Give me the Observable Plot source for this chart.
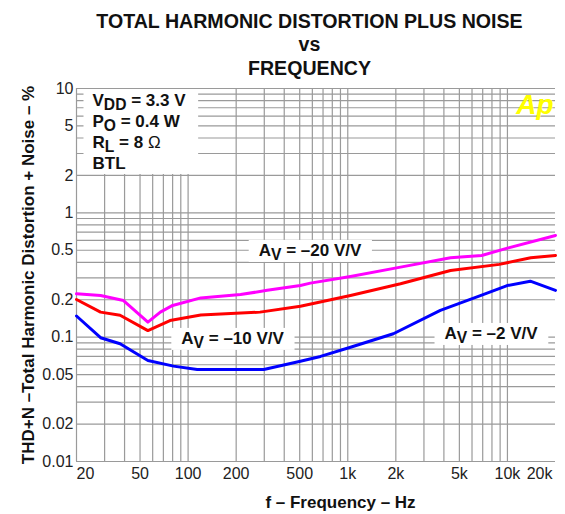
<!DOCTYPE html>
<html><head><meta charset="utf-8">
<script src="https://cdn.jsdelivr.net/npm/d3@7"></script>
<script src="https://cdn.jsdelivr.net/npm/@observablehq/plot@0.6"></script>
<style>body{margin:0;background:#fff} svg{display:block}</style>
</head><body><div id="chart"></div>
<script>
// ---- data ----
const freqAv20 = [20, 28.3, 39.4, 56, 67, 80, 120, 213, 313, 505, 583, 1040, 2140, 4400, 6900, 10000, 20000];
const thdAv20  = [0.223, 0.216, 0.197, 0.132, 0.159, 0.18, 0.207, 0.22, 0.238, 0.26, 0.272, 0.308, 0.366, 0.435, 0.454, 0.52, 0.658];
const freqAv10 = [20, 28.3, 37.5, 56, 77, 120, 282, 505, 1040, 2140, 4400, 8900, 14000, 20000];
const thdAv10  = [0.201, 0.159, 0.150, 0.113, 0.136, 0.151, 0.159, 0.177, 0.216, 0.269, 0.344, 0.385, 0.435, 0.454];
const freqAv2  = [20, 28.3, 37.5, 56, 81, 114, 298, 505, 675, 1040, 1930, 3800, 6770, 9960, 13900, 20000];
const thdAv2   = [0.148, 0.099, 0.0885, 0.065, 0.0585, 0.055, 0.055, 0.064, 0.07, 0.083, 0.1065, 0.164, 0.216, 0.26, 0.282, 0.238];

const xTickValues = [20, 50, 100, 200, 500, 1000, 2000, 5000, 10000, 20000];
const xTickLabels = ["20", "50", "100", "200", "500", "1k", "2k", "5k", "10k", "20k"];
const yTickValues = [0.01, 0.02, 0.05, 0.1, 0.2, 0.5, 1, 2, 5, 10];
const yTickLabels = ["0.01", "0.02", "0.05", "0.1", "0.2", "0.5", "1", "2", "5", "10"];

const gainLabels = ["A{V} = \u201320 V/V", "A{V} = \u201310 V/V", "A{V} = \u20132 V/V"];
const gainFreq   = [580, 190, 7900];
const gainThd    = [0.498, 0.0976, 0.107];

const legendLines = ["V{DD} = 3.3 V", "P{O} = 0.4 W", "R{L} = 8 \u03A9", "BTL"];
const titleLines = ["TOTAL HARMONIC DISTORTION PLUS NOISE", "vs", "FREQUENCY"];
const xLabel = "f \u2013 Frequency \u2013 Hz";
const yLabel = "THD+N \u2013Total Harmonic Distortion + Noise \u2013 %";

// ---- layout ----
const W = 565, H = 514, MT = 88, MB = 53, ML = 76, MR = 10;
const FONT = "'Liberation Sans', Arial, Helvetica, sans-serif";

const xGrid = [];
for (const d of [10, 100, 1000]) for (let k = 2; k <= 10; k++) xGrid.push(k * d);
const yGrid = [];
for (const d of [0.01, 0.1, 1]) for (let k = 1; k <= 9; k++) yGrid.push(k * d);
yGrid.push(10);

const pairs = (a, b) => a.map((v, i) => [v, b[i]]);
const GRID = "#9a9a9a";

const titleBase = [27, 50, 74];
const legendBase = [105, 126, 147, 168];
const TFS = 19.6, YFS = 17;

const marks = [
  Plot.ruleX(xGrid, {x: d => d, stroke: GRID, strokeWidth: 1.2}),
  Plot.ruleY(yGrid, {y: d => d, stroke: GRID, strokeWidth: 1.2}),
  Plot.line(pairs(freqAv2, thdAv2), {x: d => d[0], y: d => d[1], stroke: "#0000ff", strokeWidth: 3, strokeLinejoin: "round"}),
  Plot.line(pairs(freqAv10, thdAv10), {x: d => d[0], y: d => d[1], stroke: "#ff0000", strokeWidth: 3, strokeLinejoin: "round"}),
  Plot.line(pairs(freqAv20, thdAv20), {x: d => d[0], y: d => d[1], stroke: "#ff00ff", strokeWidth: 3, strokeLinejoin: "round"}),
  // x tick labels
  Plot.text([0], {x: i => xTickValues[i], text: i => xTickLabels[i], frameAnchor: "bottom", lineAnchor: "top", textAnchor: "start", dy: 6, dx: 0, fontSize: 16, fill: "#222"}),
  Plot.text(d3.range(1, xTickValues.length - 1), {x: i => xTickValues[i], text: i => xTickLabels[i], frameAnchor: "bottom", lineAnchor: "top", textAnchor: "middle", dy: 6, fontSize: 16, fill: "#222"}),
  Plot.text([xTickValues.length - 1], {x: i => xTickValues[i], text: i => xTickLabels[i], frameAnchor: "bottom", lineAnchor: "top", textAnchor: "end", dy: 6, dx: -3, fontSize: 16, fill: "#222"}),
  // y tick labels
  Plot.text(d3.range(yTickValues.length), {y: i => yTickValues[i], text: i => yTickLabels[i], frameAnchor: "left", textAnchor: "end", lineAnchor: "middle", dx: -3, fontSize: 16, fill: "#222"}),
  // axis titles
  Plot.text([xLabel], {text: d => d, frameAnchor: "bottom", textAnchor: "middle", lineAnchor: "middle", dx: 24.5, dy: 507 - 0.32 * 17 - (H - MB), fontSize: 17, fontWeight: "bold", fill: "#111"}),
  Plot.text([yLabel], {text: d => d, frameAnchor: "left", textAnchor: "middle", lineAnchor: "middle", rotate: -90, dx: 33 - 0.32 * YFS - ML, fontSize: YFS, fontWeight: "bold", fill: "#111"}),
  // title
  ...titleLines.map((t, i) => Plot.text([t], {text: d => d, frameAnchor: "top", textAnchor: "middle", lineAnchor: "middle", dx: -6.5, dy: titleBase[i] - 0.32 * TFS - MT, fontSize: TFS, fontWeight: "bold", fill: "#111"})),
  // Ap logo
  Plot.text(["Ap"], {text: d => d, frameAnchor: "top-right", textAnchor: "end", lineAnchor: "middle", dx: -2, dy: 113 - 0.32 * 28 - MT, fontSize: 28, fontWeight: "bold", fontStyle: "italic", fill: "#ffff00"}),
  // gain annotations
  Plot.text(d3.range(gainLabels.length), {x: i => gainFreq[i], y: i => gainThd[i], text: i => gainLabels[i], textAnchor: "middle", lineAnchor: "middle", fontSize: 17, fontWeight: "bold", fill: "#111"}),
  // legend
  ...legendLines.map((t, i) => Plot.text([t], {text: d => d, frameAnchor: "top-left", textAnchor: "start", lineAnchor: "middle", dx: 16, dy: legendBase[i] - 0.32 * 17 - MT, fontSize: 17, fontWeight: "bold", fill: "#111"}))
];

const svg = Plot.plot({
  width: W, height: H,
  marginTop: MT, marginBottom: MB, marginLeft: ML, marginRight: MR,
  x: {type: "log", domain: [20, 20000], axis: null},
  y: {type: "log", domain: [0.01, 10], axis: null},
  style: {fontFamily: FONT, background: "#fff", color: "#111"},
  marks
});
document.getElementById("chart").appendChild(svg);

// ---- rich text: subscripts in {..}, Ω in normal weight ----
const NS = "http://www.w3.org/2000/svg";
const SUB = 4;
const strip = s => s.replace(/[{}]/g, "");
svg.querySelectorAll("text").forEach(el => {
  const s = el.textContent;
  if (!/[{\u03A9]/.test(s) || el.querySelector("tspan")) return;
  el.textContent = "";
  const re = /\{([^}]*)\}|\u03A9/g;
  let last = 0, m, pendingUp = false;
  const add = (str, attrs) => {
    const t = document.createElementNS(NS, "tspan");
    t.textContent = str;
    for (const k in attrs) t.setAttribute(k, attrs[k]);
    el.appendChild(t);
  };
  const addPlain = str => { if (!str) return; add(str, pendingUp ? {dy: -SUB} : {}); pendingUp = false; };
  while ((m = re.exec(s))) {
    addPlain(s.slice(last, m.index));
    if (m[1] !== undefined) { add(m[1], {dy: SUB, "font-size": "0.92em"}); pendingUp = true; }
    else { add("\u03A9", pendingUp ? {dy: -SUB, "font-weight": "normal"} : {"font-weight": "normal"}); pendingUp = false; }
    last = re.lastIndex;
  }
  addPlain(s.slice(last));
});

// ---- white boxes behind annotations ----
const sr = svg.getBoundingClientRect();
function topLevel(el) { while (el.parentNode && el.parentNode !== svg) el = el.parentNode; return el; }
function box(beforeEl, x1, y1, x2, y2) {
  const r = document.createElementNS(NS, "rect");
  r.setAttribute("x", x1); r.setAttribute("y", y1);
  r.setAttribute("width", Math.max(0, x2 - x1)); r.setAttribute("height", Math.max(0, y2 - y1));
  r.setAttribute("fill", "#fff");
  svg.insertBefore(r, beforeEl);
}
const allText = [...svg.querySelectorAll("text")];
const gainSet = new Set(gainLabels.map(strip));
const legendSet = new Set(legendLines.map(strip));
allText.filter(t => gainSet.has(t.textContent)).forEach(t => {
  const b = t.getBoundingClientRect();
  box(topLevel(t), b.left - sr.left - 10, b.top - sr.top - 1, b.right - sr.left + 10, b.bottom - sr.top - 1);
});
const lgText = allText.filter(t => legendSet.has(t.textContent));
if (lgText.length) {
  const rs = lgText.map(t => t.getBoundingClientRect());
  const x1 = d3.min(rs, r => r.left) - sr.left - 9;
  const x2 = d3.max(rs, r => r.right) - sr.left + 12;
  const y2 = d3.max(rs, r => r.bottom) - sr.top + 1.5;
  box(topLevel(lgText[0]), x1, MT + 1, x2, y2);
}
</script>
</body></html>
